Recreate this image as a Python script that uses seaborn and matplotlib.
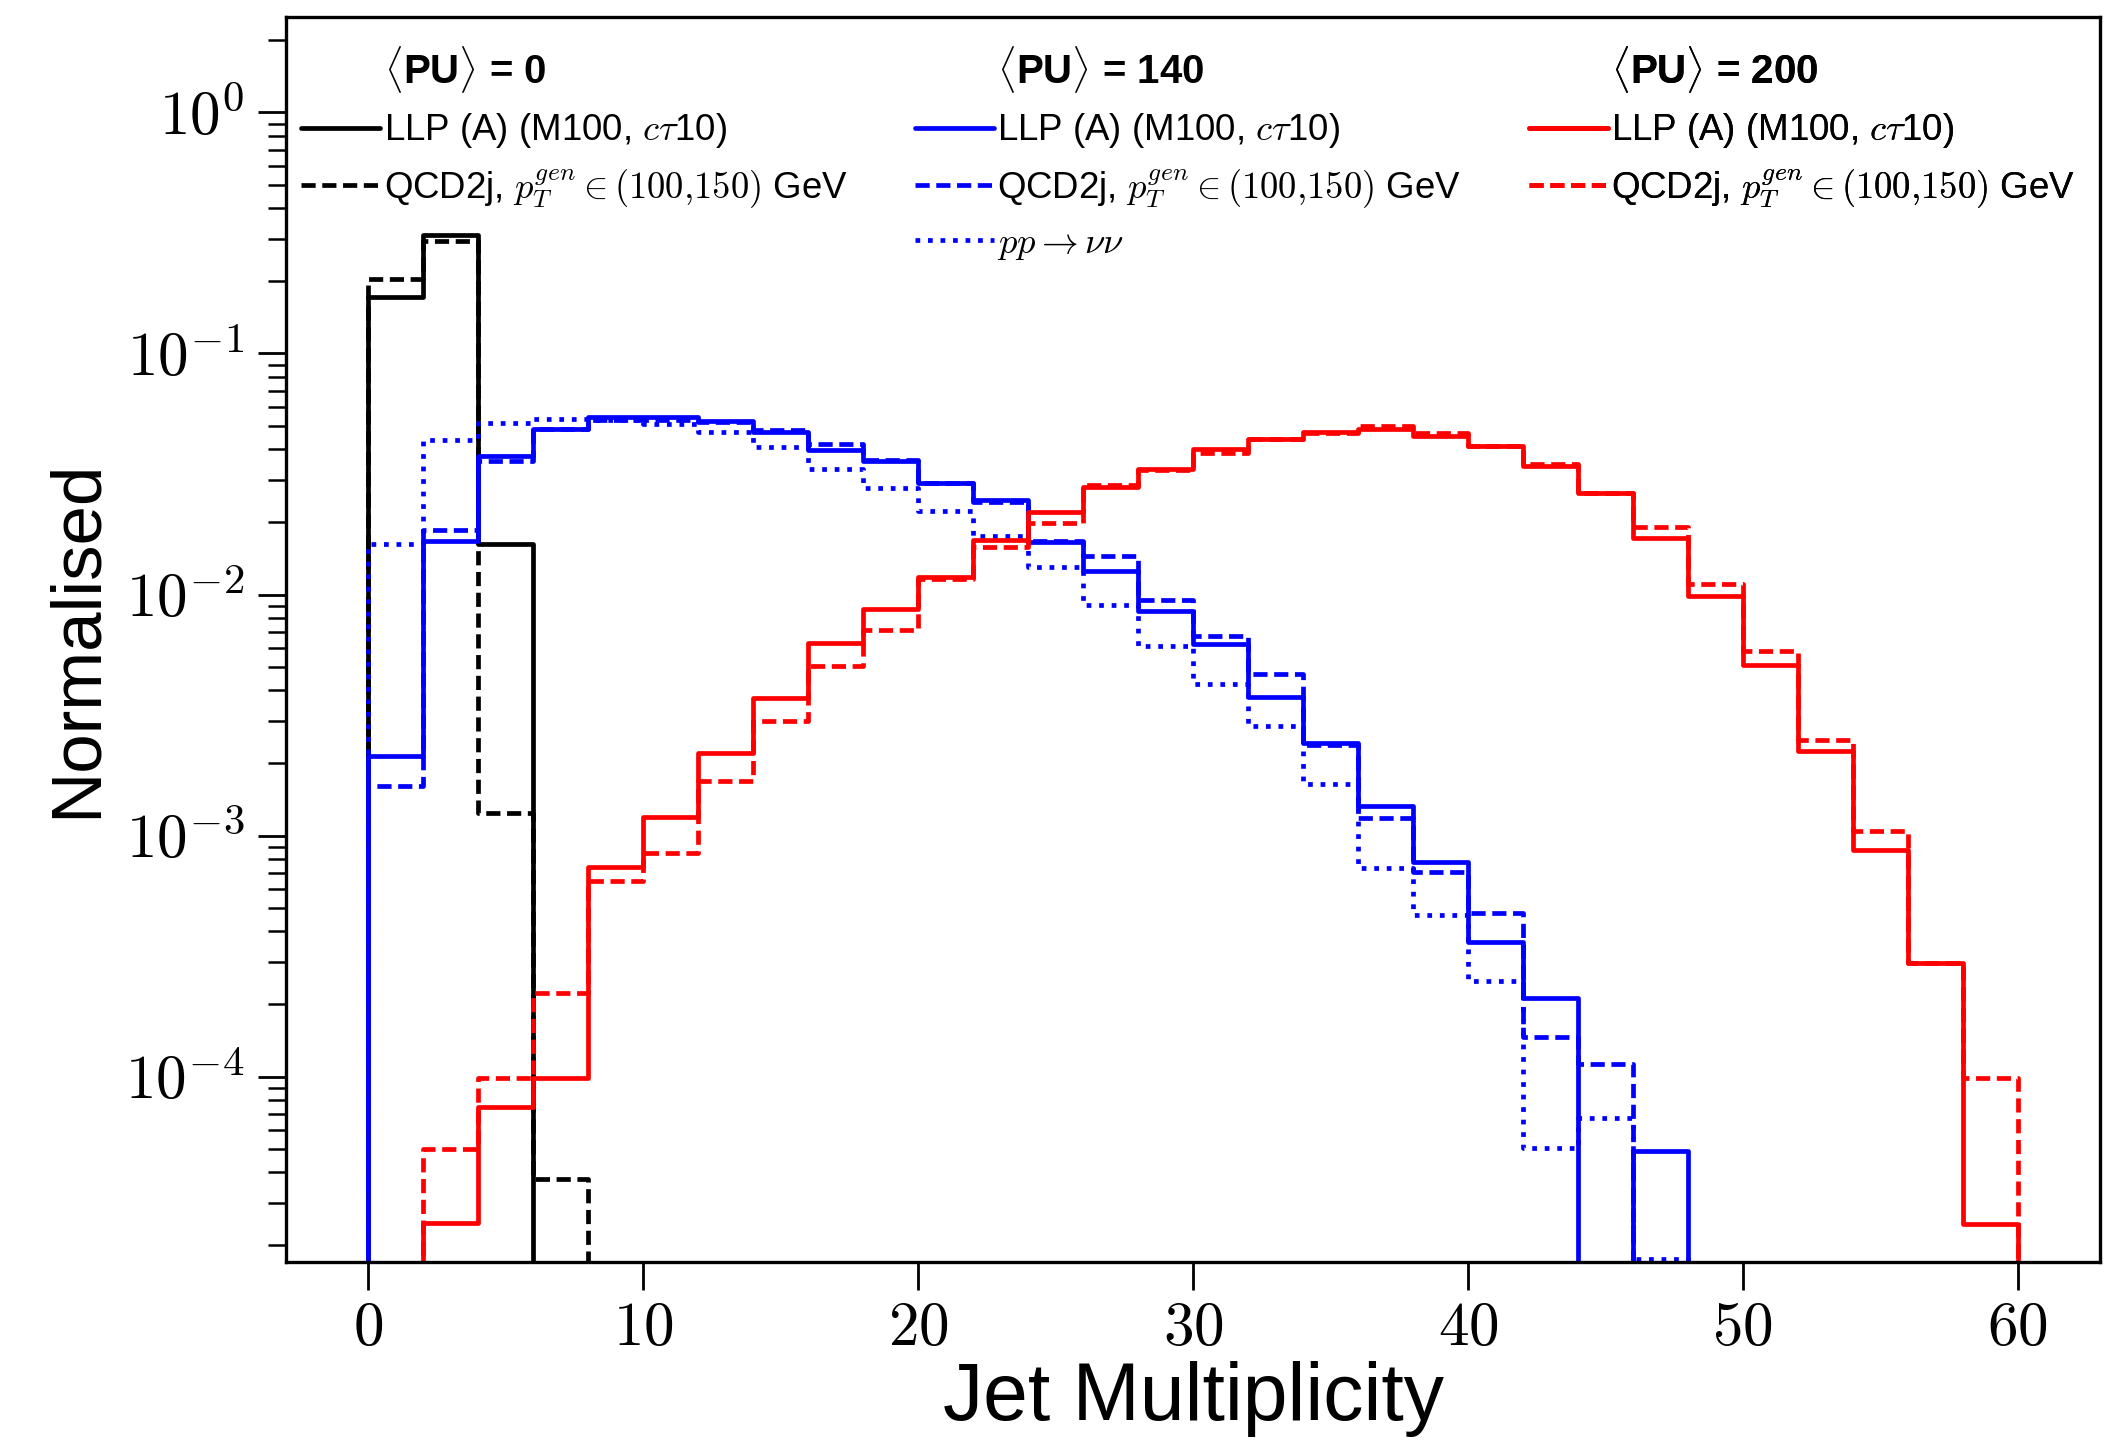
import numpy as np
import matplotlib
matplotlib.use("Agg")
import matplotlib.pyplot as plt
import seaborn as sns
from matplotlib.lines import Line2D

# jet multiplicity bins (width 2, starting at 0)
bin_edges = np.arange(0, 62, 2)

# normalised bin contents, one value per bin starting at 0 (series end where the histogram ends)
# <PU> = 0
llp_pu0 = [0.172, 0.309, 0.0162]
qcd_pu0 = [0.204, 0.292, 0.00124, 3.76e-5]
# <PU> = 140
llp_pu140 = [0.00214, 0.0167, 0.0374, 0.0487, 0.0546, 0.0546, 0.0524, 0.0471, 0.0398, 0.0358,
             0.0291, 0.0246, 0.0165, 0.0125, 0.00854, 0.00625, 0.00377, 0.00242, 0.00132, 0.000775,
             0.00036, 0.000212, 0, 4.9e-5]
qcd_pu140 = [0.0016, 0.0185, 0.0357, 0.0487, 0.053, 0.053, 0.052, 0.048, 0.042, 0.036,
             0.029, 0.0241, 0.0166, 0.0144, 0.00953, 0.00673, 0.00467, 0.00237, 0.00118, 0.000708,
             0.000476, 0.000146, 0.000113]
nunu_pu140 = [0.0162, 0.0436, 0.0513, 0.0537, 0.053, 0.051, 0.0473, 0.041, 0.0332, 0.0276,
              0.0223, 0.0175, 0.013, 0.00902, 0.00614, 0.00426, 0.00285, 0.00164, 0.000736, 0.000466,
              0.000249, 5.04e-5, 6.73e-5, 1.75e-5]
# <PU> = 200
llp_pu200 = [0, 2.48e-5, 7.45e-5, 9.9e-5, 7.43e-4, 0.00119, 0.0022, 0.00371, 0.00628, 0.00872,
             0.0118, 0.0168, 0.0221, 0.028, 0.0331, 0.04, 0.0443, 0.0474, 0.0486, 0.0456,
             0.0412, 0.0343, 0.0263, 0.0171, 0.00989, 0.00511, 0.00225, 0.000869, 0.000295, 2.44e-5]
qcd_pu200 = [0, 4.99e-5, 9.9e-5, 2.22e-4, 6.48e-4, 8.5e-4, 0.00169, 0.003, 0.00503, 0.00714,
             0.0116, 0.0157, 0.0198, 0.0285, 0.033, 0.0385, 0.044, 0.047, 0.0498, 0.047,
             0.0412, 0.0348, 0.0263, 0.0191, 0.0111, 0.00581, 0.00249, 0.00104, 0.000295, 9.87e-5]

pu_titles = [r"$\langle$PU$\rangle$ = 0", r"$\langle$PU$\rangle$ = 140", r"$\langle$PU$\rangle$ = 200"]
llp_label = r"LLP (A) (M100, $c\tau$10)"
qcd_label = r"QCD2j, $p_T^{gen} \in (100{,}150)$ GeV"
nunu_label = r"$pp \rightarrow \nu\nu$"

xticks = [0, 10, 20, 30, 40, 50, 60]
yticks = [1e-4, 1e-3, 1e-2, 1e-1, 1e0]
ytick_labels = [r"$10^{-4}$", r"$10^{-3}$", r"$10^{-2}$", r"$10^{-1}$", r"$10^{0}$"]

sns.set_style("ticks")
plt.rcParams["font.family"] = ["Liberation Sans", "DejaVu Sans"]
plt.rcParams["mathtext.fontset"] = "cm"
for key in ["text.color", "axes.labelcolor", "xtick.color", "ytick.color", "axes.edgecolor"]:
    plt.rcParams[key] = "black"

fig = plt.figure(figsize=(10.63, 7.205), dpi=200)
ax = fig.add_axes([0.1345, 0.1242, 0.8533, 0.8643])

lw = 1.7
dash = (3.0, 1.4)
styles = {"-": "-", "--": (0, dash), ":": ":"}
series = [
    (llp_pu0, "black", "-"), (qcd_pu0, "black", "--"),
    (llp_pu140, "blue", "-"), (qcd_pu140, "blue", "--"), (nunu_pu140, "blue", ":"),
    (llp_pu200, "red", "-"), (qcd_pu200, "red", "--"),
]
for vals, col, ls in series:
    n = len(vals)
    # outline of the histogram: rise at the first edge, drop at the last one
    xs = np.concatenate([[bin_edges[0]], bin_edges[:n + 1]])
    ys = np.concatenate([[0], vals, [0]])
    sns.lineplot(x=xs, y=ys, estimator=None, sort=False, drawstyle="steps-post",
                 color=col, linestyle=styles[ls], lw=lw, ax=ax)

ax.set_yscale("log")
ax.set_xlim(-3, 63)
ax.set_ylim(1.7e-5, 2.5)
ax.set_xticks(xticks, labels=[f"${v}$" for v in xticks])
ax.set_yticks(yticks, labels=ytick_labels)
ax.tick_params(axis="both", which="major", labelsize=22, length=10, width=1.0, direction="out", pad=5)
ax.tick_params(axis="x", which="major", pad=4)
ax.tick_params(axis="y", which="minor", length=6.5, width=0.9, direction="out")
for sp in ax.spines.values():
    sp.set_linewidth(1.2)

ax.set_xlabel("Jet Multiplicity", fontsize=29, labelpad=1)
ax.set_ylabel("Normalised", fontsize=25.5, labelpad=5)

# three legend columns, one per pile-up scenario
blank = Line2D([], [], linestyle="none")
groups = [
    (0.0083, [blank, Line2D([], [], color="black", lw=lw),
              Line2D([], [], color="black", lw=lw, ls=styles["--"])],
     [pu_titles[0], llp_label, qcd_label]),
    (0.3467, [blank, Line2D([], [], color="blue", lw=lw),
              Line2D([], [], color="blue", lw=lw, ls=styles["--"]),
              Line2D([], [], color="blue", lw=lw, ls=":")],
     [pu_titles[1], llp_label, qcd_label, nunu_label]),
    (0.6852, [blank, Line2D([], [], color="red", lw=lw),
              Line2D([], [], color="red", lw=lw, ls=styles["--"])],
     [pu_titles[2], llp_label, qcd_label]),
]
for xpos, handles, labels in groups:
    leg = ax.legend(handles, labels, loc="upper left", bbox_to_anchor=(xpos, 0.978),
                    frameon=False, borderpad=0, borderaxespad=0, fontsize=13.2,
                    handlelength=2.15, handletextpad=0.1, labelspacing=0.45)
    leg.get_texts()[0].set_fontweight("bold")
    leg.get_texts()[0].set_fontsize(14.5)
    ax.add_artist(leg)

fig.savefig("out.png", dpi=200)
